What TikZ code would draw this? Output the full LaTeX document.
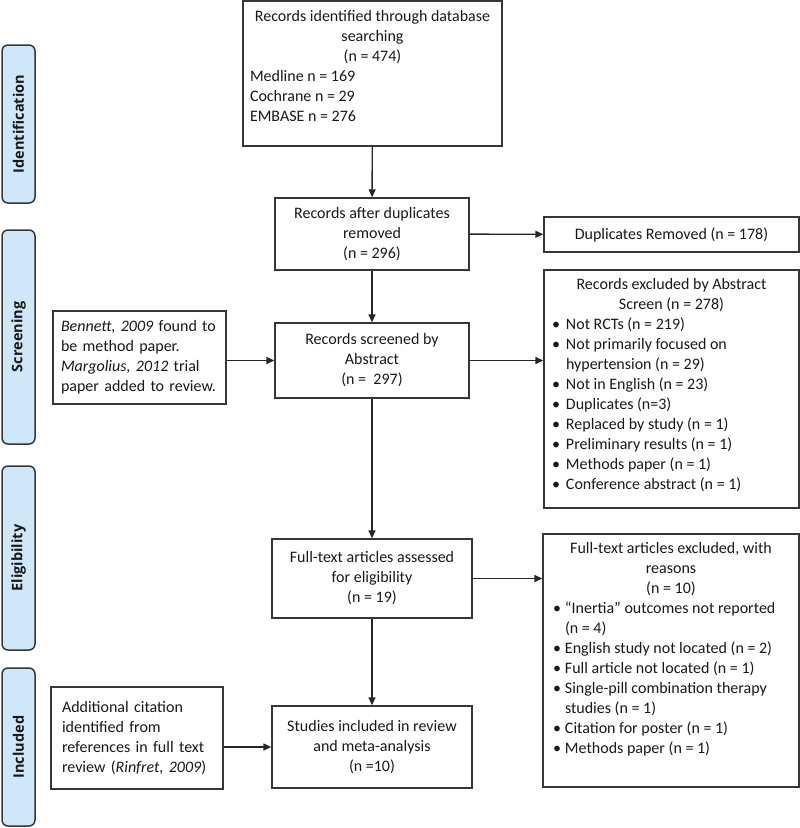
\documentclass[tikz,border=0pt]{standalone}
\usepackage{fontspec}
\setmainfont{Carlito}
\newfontfamily\bandfont{Open Sans}
\usetikzlibrary{arrows.meta}
\definecolor{bandblue}{RGB}{207,231,248}
\definecolor{edgegrey}{RGB}{55,55,55}
\newcommand\bulitem[2][14pt]{\par\hangindent=#1\hangafter=1\noindent\makebox[#1][l]{\textbullet}#2}
\tikzset{
  box/.style={draw=edgegrey, line width=1.4pt, rectangle, inner sep=0pt,
    font=\fontsize{16}{20}\selectfont, text=black!90},
  band/.style={draw=edgegrey, fill=bandblue, line width=1.5pt, rounded corners=6pt,
    rectangle, inner sep=0pt, minimum height=33pt,
    font=\bandfont\bfseries\fontsize{14.5}{16}\selectfont, text=black!90},
  flow/.style={draw=black!85, line width=1.4pt, -{Triangle[length=8pt,width=7pt]}}
}
\begin{document}
\begin{tikzpicture}[x=1pt,y=-1pt]
\useasboundingbox (0,0) rectangle (800,828);
% phase bands
\node[band, rotate=90, minimum width=158pt] (bident) at (18.5,124) {Identification};
\node[band, rotate=90, minimum width=214pt] (bscreen) at (18.5,337) {Screening};
\node[band, rotate=90, minimum width=184pt] (belig) at (18.5,558) {Eligibility};
\node[band, rotate=90, minimum width=158pt] (bincl) at (18.5,747) {Included};
% boxes
\node[box, minimum width=259pt, minimum height=145pt] (ident) at (372.5,73.5)
  {\begin{minipage}[c][126pt][t]{245pt}\centering Records identified through database\\searching\\(n = 474)\par\raggedright Medline n = 169\\Cochrane n = 29\\EMBASE n = 276\end{minipage}};
\node[box, minimum width=194pt, minimum height=72pt, align=center] (dedup) at (372,234)
  {Records after duplicates\\removed\\(n = 296)};
\node[box, minimum width=255pt, minimum height=35pt] (dupl) at (671.5,234.5)
  {Duplicates Removed (n = 178)};
\node[box, minimum width=194pt, minimum height=75pt, align=center] (screen) at (372,360.5)
  {Records screened by\\Abstract\\(n = \ 297)};
\node[box, minimum width=173pt, minimum height=93pt, text width=157pt, align=left] (bennett) at (139.5,357.5)
  {\textit{Bennett, 2009} found to\\be method paper.\\\textit{Margolius, 2012} trial\\paper added to review.};
\node[box, minimum width=255pt, minimum height=238pt] (excl) at (671.5,389)
  {\begin{minipage}[c][222pt][t]{239pt}{\centering Records excluded by Abstract\\Screen (n = 278)\par}\raggedright
  \bulitem{Not RCTs (n = 219)}
  \bulitem{Not primarily focused on\newline hypertension (n = 29)}
  \bulitem{Not in English (n = 23)}
  \bulitem{Duplicates (n=3)}
  \bulitem{Replaced by study (n = 1)}
  \bulitem{Preliminary results (n = 1)}
  \bulitem{Methods paper (n = 1)}
  \bulitem{Conference abstract (n = 1)}\end{minipage}};
\node[box, minimum width=200pt, minimum height=79pt, align=center] (elig) at (372,578.5)
  {Full-text articles assessed\\for eligibility\\(n = 19)};
\node[box, minimum width=256pt, minimum height=253pt] (ftexcl) at (671,660.5)
  {\begin{minipage}[c][237pt][t]{236pt}{\centering Full-text articles excluded, with\\reasons\\(n = 10)\par}\raggedright
  \bulitem[12pt]{“Inertia” outcomes not reported\newline (n = 4)}
  \bulitem[12pt]{English study not located (n = 2)}
  \bulitem[12pt]{Full article not located (n = 1)}
  \bulitem[12pt]{Single-pill combination therapy\newline studies (n = 1)}
  \bulitem[12pt]{Citation for poster (n = 1)}
  \bulitem[12pt]{Methods paper (n = 1)}\end{minipage}};
\node[box, minimum width=200pt, minimum height=82pt, align=center] (incl) at (372,747)
  {Studies included in review\\and meta-analysis\\(n =10)};
\node[box, minimum width=172pt, minimum height=102pt, text width=150pt, align=left] (addit) at (137,738)
  {Additional citation\\identified from\\references in full text\\review (\textit{Rinfret, 2009})};
% connectors
\draw[flow] (ident) -- (dedup);
\draw[flow] (dedup) -- (dupl);
\draw[flow] (dedup) -- (screen);
\draw[flow] (screen.west -| bennett.east) -- (screen.west);
\draw[flow] (screen.east) -- (screen.east -| excl.west);
\draw[flow] (screen) -- (elig);
\draw[flow] (elig.east) -- (elig.east -| ftexcl.west);
\draw[flow] (elig) -- (incl);
\draw[flow] (incl.west -| addit.east) -- (incl.west);
\end{tikzpicture}
\end{document}
